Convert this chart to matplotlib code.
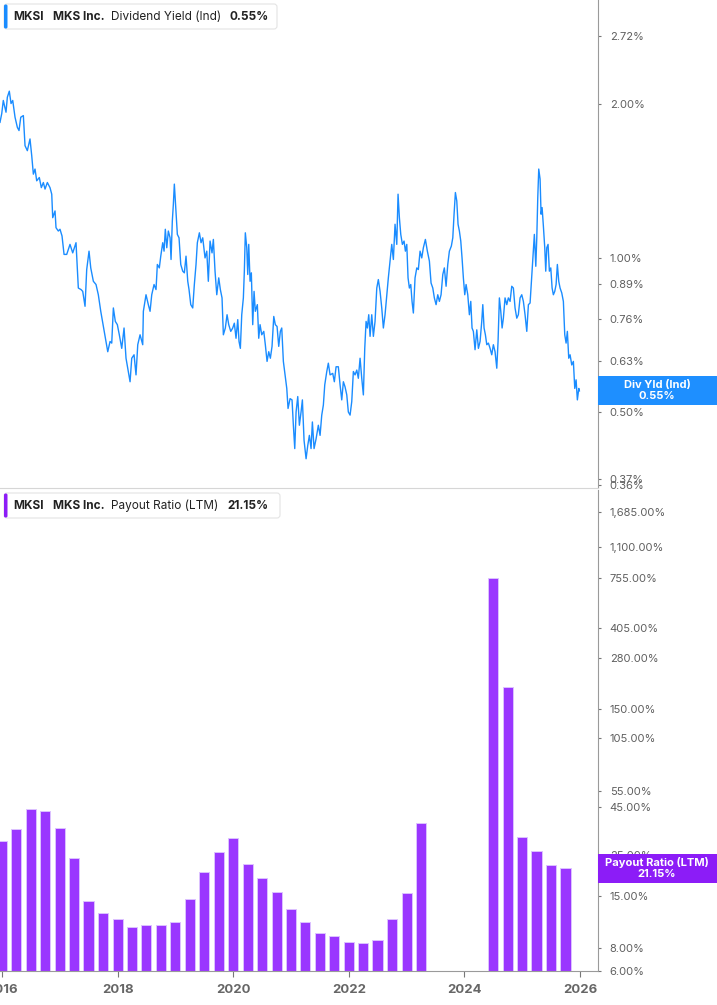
import numpy as np
import pandas as pd
import matplotlib
matplotlib.use("Agg")
import matplotlib.pyplot as plt
from matplotlib.patches import Rectangle, FancyBboxPatch
from matplotlib.transforms import IdentityTransform

plt.rcParams['font.family'] = ['Inter', 'DejaVu Sans']

# --- dividend yield (Ind), %
yld_year = [
    2015.965, 2015.995, 2016.022, 2016.069, 2016.092, 2016.126, 2016.156, 2016.185, 2016.225, 2016.265,
    2016.294, 2016.324, 2016.369, 2016.398, 2016.438, 2016.484, 2016.514, 2016.542, 2016.571, 2016.600,
    2016.645, 2016.680, 2016.715, 2016.744, 2016.784, 2016.830, 2016.860, 2016.877, 2016.917, 2016.934,
    2016.974, 2017.003, 2017.038, 2017.073, 2017.119, 2017.176, 2017.223, 2017.280, 2017.320, 2017.367,
    2017.396, 2017.436, 2017.465, 2017.505, 2017.535, 2017.580, 2017.626, 2017.666, 2017.708, 2017.753,
    2017.799, 2017.829, 2017.869, 2017.898, 2017.926, 2017.960, 2017.995, 2018.029, 2018.071, 2018.111,
    2018.145, 2018.185, 2018.215, 2018.244, 2018.284, 2018.318, 2018.348, 2018.388, 2018.434, 2018.445,
    2018.491, 2018.531, 2018.561, 2018.590, 2018.630, 2018.664, 2018.687, 2018.721, 2018.746, 2018.780,
    2018.803, 2018.825, 2018.850, 2018.877, 2018.907, 2018.924, 2018.946, 2018.964, 2018.981, 2019.005,
    2019.033, 2019.062, 2019.092, 2019.126, 2019.154, 2019.183, 2019.213, 2019.235, 2019.265, 2019.299,
    2019.327, 2019.356, 2019.379, 2019.414, 2019.443, 2019.472, 2019.512, 2019.542, 2019.569, 2019.599,
    2019.633, 2019.656, 2019.685, 2019.715, 2019.749, 2019.777, 2019.806, 2019.829, 2019.863, 2019.893,
    2019.922, 2019.957, 2019.991, 2020.019, 2020.048, 2020.078, 2020.100, 2020.123, 2020.147, 2020.175,
    2020.192, 2020.209, 2020.234, 2020.251, 2020.268, 2020.291, 2020.313, 2020.337, 2020.360, 2020.382,
    2020.417, 2020.441, 2020.464, 2020.493, 2020.528, 2020.555, 2020.585, 2020.614, 2020.642, 2020.671,
    2020.701, 2020.728, 2020.758, 2020.787, 2020.815, 2020.839, 2020.867, 2020.896, 2020.926, 2020.948,
    2020.983, 2021.017, 2021.040, 2021.064, 2021.087, 2021.116, 2021.144, 2021.173, 2021.196, 2021.225,
    2021.260, 2021.289, 2021.317, 2021.346, 2021.369, 2021.398, 2021.433, 2021.472, 2021.502, 2021.531,
    2021.559, 2021.583, 2021.618, 2021.645, 2021.675, 2021.721, 2021.749, 2021.779, 2021.818, 2021.848,
    2021.877, 2021.905, 2021.934, 2021.964, 2021.991, 2022.021, 2022.050, 2022.078, 2022.107, 2022.137,
    2022.164, 2022.194, 2022.223, 2022.251, 2022.275, 2022.298, 2022.320, 2022.344, 2022.367, 2022.396,
    2022.424, 2022.453, 2022.483, 2022.510, 2022.540, 2022.569, 2022.597, 2022.626, 2022.656, 2022.683,
    2022.713, 2022.742, 2022.770, 2022.799, 2022.829, 2022.851, 2022.874, 2022.898, 2022.926, 2022.955,
    2022.978, 2023.002, 2023.024, 2023.047, 2023.071, 2023.093, 2023.116, 2023.145, 2023.175, 2023.202,
    2023.232, 2023.261, 2023.289, 2023.324, 2023.358, 2023.393, 2023.422, 2023.452, 2023.479, 2023.509,
    2023.538, 2023.566, 2023.595, 2023.625, 2023.652, 2023.682, 2023.711, 2023.739, 2023.773, 2023.798,
    2023.820, 2023.843, 2023.867, 2023.889, 2023.912, 2023.936, 2023.958, 2023.981, 2024.005, 2024.028,
    2024.057, 2024.085, 2024.109, 2024.131, 2024.154, 2024.183, 2024.213, 2024.241, 2024.270, 2024.299,
    2024.317, 2024.339, 2024.362, 2024.386, 2024.414, 2024.443, 2024.472, 2024.500, 2024.529, 2024.559,
    2024.581, 2024.604, 2024.628, 2024.651, 2024.673, 2024.702, 2024.732, 2024.759, 2024.789, 2024.818,
    2024.846, 2024.875, 2024.905, 2024.932, 2024.962, 2024.991, 2025.019, 2025.048, 2025.078, 2025.106,
    2025.135, 2025.164, 2025.192, 2025.209, 2025.234, 2025.251, 2025.268, 2025.285, 2025.308, 2025.325,
    2025.343, 2025.365, 2025.389, 2025.406, 2025.424, 2025.446, 2025.469, 2025.493, 2025.516, 2025.538,
    2025.562, 2025.585, 2025.607, 2025.631, 2025.654, 2025.683, 2025.711, 2025.735, 2025.758, 2025.780,
    2025.804, 2025.827, 2025.856, 2025.884, 2025.908, 2025.931, 2025.953, 2025.978, 2025.988,
]
yld_pct = [
    1.844, 1.918, 2.035, 1.930, 2.065, 2.122, 2.007, 2.035, 1.887, 1.803,
    1.777, 1.887, 1.901, 1.660, 1.623, 1.711, 1.586, 1.460, 1.494, 1.417,
    1.438, 1.374, 1.406, 1.365, 1.406, 1.374, 1.334, 1.200, 1.237, 1.147,
    1.130, 1.139, 1.105, 1.017, 1.017, 1.064, 1.024, 1.072, 0.874, 0.868,
    0.861, 0.805, 0.950, 1.032, 0.957, 0.901, 0.888, 0.848, 0.787, 0.735,
    0.687, 0.656, 0.687, 0.682, 0.799, 0.752, 0.741, 0.708, 0.666, 0.730,
    0.637, 0.600, 0.573, 0.637, 0.647, 0.591, 0.677, 0.708, 0.677, 0.787,
    0.848, 0.811, 0.787, 0.848, 0.888, 0.868, 0.972, 0.957, 1.009, 1.072,
    1.032, 1.139, 1.048, 1.130, 1.096, 0.994, 1.182, 1.275, 1.396, 1.256,
    1.113, 1.096, 0.972, 0.943, 0.936, 1.009, 0.901, 0.868, 0.811, 0.799,
    0.888, 0.972, 1.072, 1.121, 1.072, 1.096, 1.001, 1.032, 0.901, 1.080,
    1.024, 1.088, 0.943, 0.848, 0.915, 0.868, 0.836, 0.708, 0.730, 0.775,
    0.741, 0.719, 0.730, 0.746, 0.697, 0.758, 0.687, 0.666, 0.775, 0.836,
    0.943, 1.121, 1.048, 0.929, 1.064, 0.901, 0.936, 0.741, 0.861, 0.787,
    0.811, 0.697, 0.741, 0.708, 0.719, 0.677, 0.628, 0.656, 0.637, 0.672,
    0.769, 0.741, 0.735, 0.672, 0.719, 0.730, 0.628, 0.591, 0.556, 0.508,
    0.531, 0.528, 0.471, 0.424, 0.500, 0.536, 0.471, 0.500, 0.528, 0.440,
    0.405, 0.430, 0.450, 0.424, 0.478, 0.424, 0.443, 0.471, 0.450, 0.493,
    0.516, 0.565, 0.600, 0.623, 0.591, 0.595, 0.573, 0.613, 0.613, 0.565,
    0.528, 0.573, 0.560, 0.540, 0.500, 0.493, 0.524, 0.600, 0.591, 0.604,
    0.582, 0.637, 0.582, 0.540, 0.666, 0.752, 0.730, 0.775, 0.703, 0.775,
    0.703, 0.752, 0.874, 0.908, 0.861, 0.799, 0.730, 0.775, 0.848, 0.915,
    0.987, 1.064, 0.994, 1.165, 1.064, 1.334, 1.200, 1.113, 1.064, 1.080,
    1.032, 1.064, 0.915, 0.874, 0.888, 0.823, 0.781, 0.915, 0.957, 0.950,
    1.032, 1.001, 1.048, 1.088, 1.032, 0.987, 0.894, 0.874, 0.836, 0.811,
    0.848, 0.823, 0.848, 0.929, 0.957, 0.881, 0.972, 1.032, 1.056, 1.096,
    1.219, 1.344, 1.294, 1.165, 1.130, 1.080, 1.001, 0.915, 0.848, 0.888,
    0.848, 0.775, 0.823, 0.730, 0.719, 0.662, 0.724, 0.666, 0.687, 0.752,
    0.811, 0.730, 0.708, 0.677, 0.682, 0.666, 0.647, 0.677, 0.656, 0.609,
    0.687, 0.836, 0.787, 0.730, 0.763, 0.836, 0.811, 0.836, 0.823, 0.881,
    0.874, 0.799, 0.763, 0.775, 0.836, 0.848, 0.823, 0.775, 0.719, 0.811,
    0.817, 0.922, 1.032, 1.113, 0.964, 1.096, 1.314, 1.494, 1.428, 1.219,
    1.256, 1.156, 1.048, 0.943, 1.048, 1.064, 0.943, 0.957, 0.874, 0.848,
    0.861, 0.888, 0.972, 0.901, 0.874, 0.855, 0.823, 0.708, 0.682, 0.719,
    0.637, 0.647, 0.618, 0.628, 0.556, 0.578, 0.528, 0.556, 0.550,
]
yld_last = 0.55
yld_ticks = [2.72, 2.00, 1.00, 0.89, 0.76, 0.63, 0.50, 0.37, 0.36]

# --- payout ratio (LTM), %, quarterly; NaN = no value shown
payout_quarters = pd.date_range("2015-12-31", "2025-09-30", freq="QE")
payout_pct = [
    29.5, 34.3, 44.1, 42.8, 34.7, 24.2, 14.2, 12.3, 11.3, 10.3,
    10.6, 10.5, 10.9, 14.6, 20.3, 25.8, 30.9, 22.3, 18.9, 15.9,
    12.8, 11.0, 9.6, 9.2, 8.6, 8.5, 8.8, 11.3, 15.7, 37.1,
    np.nan, np.nan, np.nan, np.nan, 751.0, 197.0, 31.1, 26.1, 22.2, 21.15,
]
payout_last = 21.15
payout_ticks = [1685, 1100, 755, 405, 280, 150, 105, 55, 45, 25, 15, 8, 6]

year_ticks = [2016, 2018, 2020, 2022, 2024, 2026]

BLUE = '#1a8cff'
PURPLE = '#9a36ff'
PURPLE_BADGE = '#8c1cf7'
GRAY_TXT = '#5f5f5f'
SPINE = '#9a9a9a'

W, H = 717, 1005
fig = plt.figure(figsize=(W / 100, H / 100), dpi=100)


def fx(px):
    return px / W


def fy(py):
    return 1 - py / H


ax1 = fig.add_axes([0, fy(488), fx(598), fy(0) - fy(488)])
ax2 = fig.add_axes([0, fy(971), fx(598), fy(490) - fy(971)])

# decimal years for the bars
bar_x = [d.year + d.dayofyear / 365.25 for d in payout_quarters]

ax1.plot(yld_year, yld_pct, color=BLUE, lw=1.0, solid_joinstyle='round')
ax2.bar(bar_x, payout_pct, width=0.175, color=PURPLE, edgecolor='#dcc2ff', linewidth=0.7)

for ax in (ax1, ax2):
    ax.set_yscale('log')
    ax.set_xlim(2015.965, 2026.31)
    ax.spines['left'].set_visible(False)
    ax.spines['top'].set_visible(False)
    ax.spines['right'].set_color(SPINE)
    ax.yaxis.tick_right()
    ax.yaxis.set_minor_locator(matplotlib.ticker.NullLocator())
    ax.tick_params(axis='y', which='major', length=2.5, width=0.8, color='#777777',
                   labelsize=8, labelcolor=GRAY_TXT, pad=6)

ax1.set_ylim(0.355, 3.20)
ax1.set_yticks(yld_ticks)
ax1.set_yticklabels([f"{t:.2f}%" for t in yld_ticks])
ax1.spines['bottom'].set_color('#d6d6d6')
ax1.set_xticks([])

ax2.set_ylim(6, 2213)
ax2.set_yticks(payout_ticks)
ax2.set_yticklabels([f"{t:,.2f}%" for t in payout_ticks])
ax2.spines['bottom'].set_color(SPINE)
ax2.set_xticks(year_ticks)
ax2.set_xticklabels([str(y) for y in year_ticks])
ax2.tick_params(axis='x', length=4, width=0.8, color='#777777', labelsize=9.5,
                labelcolor='#666666', pad=5)
for lab in ax2.get_xticklabels():
    lab.set_fontweight('bold')


def legend_box(top, right, color, parts):
    box = FancyBboxPatch((4, H - top - 25), right - 4, 25, boxstyle="round,pad=0,rounding_size=3",
                         transform=IdentityTransform(), facecolor='white', edgecolor='#e4e4e4', lw=0.8)
    fig.add_artist(box)
    stripe = FancyBboxPatch((4, H - top - 24.5), 3.5, 24, boxstyle="round,pad=0,rounding_size=1.5",
                            transform=IdentityTransform(), facecolor=color, edgecolor='none')
    fig.add_artist(stripe)
    for xpos, txt, wt in parts:
        fig.text(fx(xpos), fy(top + 12.5), txt, fontsize=8.5, fontweight=wt, color='#222222',
                 va='center', ha='left')


legend_box(4, 277, BLUE, [(13, "MKSI", 'bold'), (53, "MKS Inc.", 'bold'),
                          (111, "Dividend Yield (Ind)", 'normal'), (229, "0.55%", 'bold')])
legend_box(493, 280, PURPLE_BADGE, [(13, "MKSI", 'bold'), (53, "MKS Inc.", 'bold'),
                                    (111, "Payout Ratio (LTM)", 'normal'), (227, "21.15%", 'bold')])


def badge(ax, val, color, line1, line2):
    yd = ax.transData.transform((2020, val))[1]
    rect = Rectangle((598, yd - 14.5), W - 598, 29, transform=IdentityTransform(),
                     facecolor=color, edgecolor='none')
    fig.add_artist(rect)
    fig.text(fx(657), (yd + 5.5) / H, line1, color='white', fontsize=8, fontweight='bold',
             ha='center', va='center')
    fig.text(fx(657), (yd - 5.5) / H, line2, color='white', fontsize=8, fontweight='bold',
             ha='center', va='center')


badge(ax1, yld_last, '#1e8fff', "Div Yld (Ind)", f"{yld_last:.2f}%")
badge(ax2, payout_last, PURPLE_BADGE, "Payout Ratio (LTM)", f"{payout_last:.2f}%")

fig.savefig("out.png", dpi=100)
